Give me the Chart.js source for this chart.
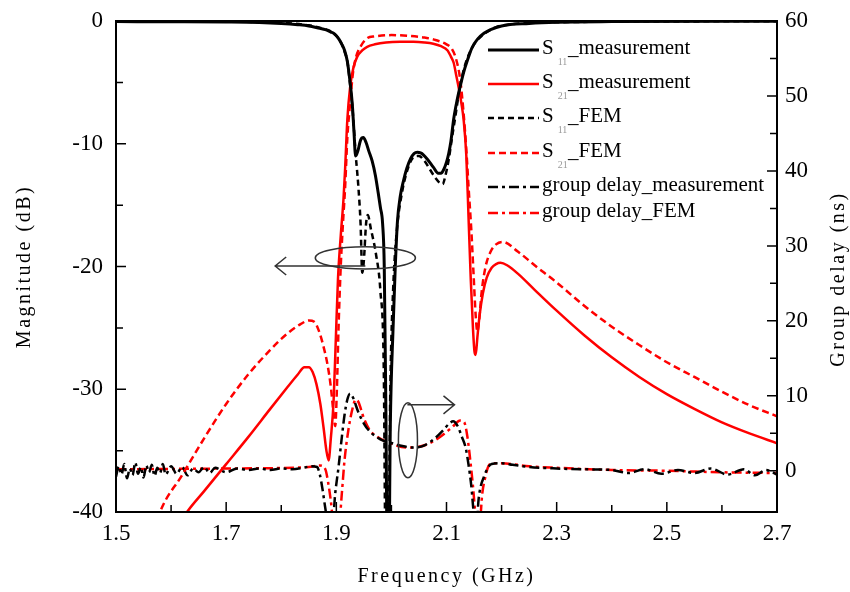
<!DOCTYPE html>
<html><head><meta charset="utf-8">
<script src="https://cdn.jsdelivr.net/npm/chart.js@4.4.1/dist/chart.umd.min.js"></script>
<style>html,body{margin:0;padding:0;background:#fff;}</style>
</head><body>
<canvas id="c" width="850" height="592"></canvas>
<script>
// ---- tick values ----
const xTicks = [1.5, 1.7, 1.9, 2.1, 2.3, 2.5, 2.7];
const xMinor = [1.6, 1.8, 2.0, 2.2, 2.4, 2.6];
const magTicks = [-40, -30, -20, -10, 0];
const magMinor = [-35, -25, -15, -5];
const gdTicks = [0, 10, 20, 30, 40, 50, 60];
const gdMinor = [5, 15, 25, 35, 45, 55];

// ---- S11 measurement ----
const s11MeasF  = [1.50,1.60,1.70,1.76,1.80,1.83,1.85,1.87,1.88,1.89,1.895,1.90,1.905,1.91,1.915,1.92,1.925,1.929,1.932,1.935,1.939,1.944,1.949,1.954,1.959,1.965,1.971,1.976,1.980,1.984,1.987,1.990,1.993,1.995,1.998,2.003,2.007,2.011,2.016,2.022,2.028,2.035,2.041,2.047,2.053,2.058,2.066,2.076,2.085,2.090,2.095,2.100,2.104,2.108,2.113,2.119,2.125,2.131,2.138,2.146,2.156,2.168,2.18,2.20,2.25,2.30,2.40,2.70];
const s11MeasDb = [-0.05,-0.06,-0.08,-0.12,-0.2,-0.3,-0.4,-0.6,-0.7,-0.9,-1.0,-1.2,-1.5,-1.9,-2.4,-3.3,-5.0,-6.8,-9.0,-11.0,-10.6,-9.7,-9.5,-9.9,-10.6,-11.4,-12.6,-14.0,-15.2,-16.5,-20,-32,-46,-46,-33,-25,-20,-16.3,-14.3,-13.0,-12.0,-11.2,-10.8,-10.7,-10.75,-10.9,-11.3,-11.9,-12.4,-12.4,-12.1,-11.5,-10.8,-9.8,-8.0,-6.5,-5.3,-4.2,-3.2,-2.2,-1.5,-1.0,-0.7,-0.4,-0.2,-0.1,-0.05,-0.02];

// ---- S21 measurement ----
const s21MeasF  = [1.615,1.629,1.66,1.70,1.74,1.78,1.81,1.83,1.842,1.85,1.857,1.864,1.871,1.877,1.882,1.886,1.890,1.895,1.899,1.903,1.908,1.913,1.916,1.920,1.925,1.931,1.938,1.947,1.956,1.97,1.99,2.016,2.04,2.06,2.076,2.09,2.102,2.108,2.113,2.118,2.122,2.127,2.131,2.136,2.140,2.144,2.148,2.151,2.153,2.156,2.160,2.166,2.173,2.182,2.19,2.198,2.21,2.23,2.26,2.30,2.35,2.40,2.45,2.50,2.55,2.60,2.65,2.70];
const s21MeasDb = [-41,-40,-38.3,-36.1,-33.9,-31.6,-29.9,-28.8,-28.2,-28.2,-28.6,-29.6,-31.2,-33.2,-35.0,-35.8,-34.0,-31.0,-26.0,-21.0,-17.5,-14.5,-12.0,-8.0,-5.4,-3.8,-2.9,-2.4,-2.1,-1.9,-1.75,-1.7,-1.7,-1.75,-1.85,-2.05,-2.4,-2.9,-3.4,-4.5,-5.4,-6.7,-8.0,-11.0,-16.0,-21.0,-25.0,-27.0,-27.2,-25.8,-24.0,-22.2,-20.9,-20.1,-19.8,-19.7,-19.9,-20.6,-21.9,-23.6,-25.6,-27.4,-29.0,-30.4,-31.6,-32.7,-33.6,-34.4];

// ---- S11 FEM ----
const s11FemF  = [1.50,1.70,1.80,1.85,1.87,1.89,1.90,1.91,1.915,1.92,1.925,1.93,1.935,1.94,1.944,1.947,1.950,1.954,1.957,1.963,1.972,1.980,1.986,1.990,1.994,1.998,2.003,2.010,2.020,2.030,2.040,2.050,2.060,2.070,2.080,2.088,2.093,2.098,2.104,2.110,2.116,2.122,2.128,2.135,2.144,2.155,2.17,2.19,2.22,2.30,2.70];
const s11FemDb = [-0.02,-0.05,-0.15,-0.35,-0.55,-0.85,-1.2,-1.9,-2.5,-3.3,-5.2,-7.5,-10.8,-13.5,-16.5,-20.5,-19.5,-16.5,-15.8,-17.0,-19.0,-22.0,-28.0,-46,-46,-30,-22,-17,-13.8,-12.0,-11.1,-11.0,-11.4,-12.1,-12.8,-13.2,-13.3,-12.6,-11.3,-9.5,-7.8,-6.0,-4.6,-3.4,-2.4,-1.6,-1.0,-0.5,-0.25,-0.1,-0.02];

// ---- S21 FEM ----
const s21FemF  = [1.57,1.58,1.62,1.66,1.70,1.74,1.78,1.81,1.835,1.85,1.86,1.868,1.876,1.884,1.890,1.895,1.898,1.901,1.904,1.908,1.912,1.916,1.920,1.925,1.930,1.936,1.945,1.956,1.97,2.00,2.03,2.06,2.08,2.10,2.11,2.118,2.125,2.131,2.136,2.140,2.145,2.149,2.153,2.156,2.159,2.164,2.171,2.18,2.19,2.202,2.23,2.26,2.30,2.35,2.40,2.45,2.50,2.55,2.60,2.65,2.70];
const s21FemDb = [-41.5,-40,-37.0,-34.0,-31.2,-28.8,-26.8,-25.5,-24.7,-24.4,-24.5,-25.2,-26.4,-28.0,-29.8,-32.0,-33.0,-30.0,-25.0,-20.0,-16.5,-13.5,-9.5,-6.7,-4.3,-2.9,-2.0,-1.4,-1.25,-1.15,-1.2,-1.35,-1.55,-1.9,-2.3,-3.2,-4.8,-7.5,-10.5,-13.5,-17.0,-20.5,-24.0,-25.3,-24.5,-22.0,-20.0,-18.8,-18.2,-18.0,-18.8,-19.9,-21.3,-23.2,-24.9,-26.4,-27.8,-29.0,-30.2,-31.3,-32.2];

// ---- group delay measurement (ns) ----
const gdMeasF  = [1.500,1.505,1.510,1.515,1.520,1.525,1.530,1.535,1.540,1.545,1.550,1.555,1.560,1.565,1.570,1.575,1.580,1.585,1.590,1.600,1.610,1.620,1.630,1.640,1.650,1.660,1.670,1.680,1.700,1.720,1.740,1.760,1.780,1.800,1.820,1.840,1.855,1.865,1.870,1.875,1.880,1.885,1.893,1.898,1.904,1.910,1.915,1.920,1.925,1.930,1.940,1.950,1.960,1.980,2.000,2.020,2.040,2.060,2.080,2.095,2.105,2.112,2.120,2.128,2.135,2.140,2.145,2.150,2.155,2.158,2.162,2.168,2.175,2.182,2.200,2.220,2.250,2.300,2.350,2.400,2.430,2.460,2.490,2.520,2.550,2.580,2.610,2.640,2.660,2.680,2.700];
const gdMeasNs = [-0.8,0.6,-0.5,0.9,-1.0,0.3,-0.6,1.1,-0.4,0.5,-0.9,0.7,-0.2,0.8,-0.7,0.4,-0.3,0.9,-0.5,0.6,-0.4,0.5,-0.6,0.3,-0.2,0.5,-0.3,0.4,-0.2,0.3,0.1,0.3,0.1,0.3,0.2,0.4,0.6,0.5,-0.5,-2.5,-5.0,-7.0,-7.0,-3.0,0.5,4.5,7.5,9.5,10.3,9.8,7.8,6.3,5.3,4.2,3.7,3.3,3.1,3.4,4.4,5.5,6.3,6.6,6.0,4.5,3.0,0.8,-2.0,-6.0,-7.0,-4.0,-2.1,-0.8,0.4,0.9,1.0,0.8,0.5,0.3,0.2,0.1,-0.3,0.2,-0.4,0.1,-0.3,0.3,-0.5,0.2,-0.6,0.1,-0.5];

// ---- group delay FEM (ns) ----
const gdFemF  = [1.50,1.70,1.85,1.87,1.880,1.885,1.890,1.895,1.905,1.910,1.915,1.922,1.930,1.935,1.940,1.950,1.960,1.975,2.00,2.03,2.05,2.07,2.09,2.11,2.125,2.132,2.138,2.143,2.148,2.153,2.160,2.165,2.170,2.176,2.185,2.20,2.25,2.30,2.40,2.50,2.60,2.70];
const gdFemNs = [0.2,0.3,0.5,0.7,0.2,-1.5,-4.0,-7.0,-7.0,-3.0,1.5,5.5,8.5,9.5,9.2,7.0,5.5,4.5,3.6,3.1,3.2,3.7,4.6,5.8,6.7,6.5,4.5,1.5,-2.0,-6.0,-7.0,-3.0,-1.0,0.6,1.0,1.0,0.6,0.4,0.1,0.0,-0.2,-0.3];

// ---- legend text ----
const legendRows = [
  {ds: 0, main: 'S', sub: '11', rest: '_measurement'},
  {ds: 1, main: 'S', sub: '21', rest: '_measurement'},
  {ds: 2, main: 'S', sub: '11', rest: '_FEM'},
  {ds: 3, main: 'S', sub: '21', rest: '_FEM'},
  {ds: 4, main: 'group delay_measurement', sub: '', rest: ''},
  {ds: 5, main: 'group delay_FEM', sub: '', rest: ''}
];

const pts = (fs, vs) => fs.map((f, i) => ({x: f, y: vs[i]}));
const SERIF = '"Liberation Serif", "Times New Roman", serif';

const datasets = [
  {label: 'S11_measurement', data: pts(s11MeasF, s11MeasDb), yAxisID: 'y', borderColor: '#000', borderWidth: 3, borderDash: []},
  {label: 'S21_measurement', data: pts(s21MeasF, s21MeasDb), yAxisID: 'y', borderColor: '#ff0000', borderWidth: 2.5, borderDash: []},
  {label: 'S11_FEM', data: pts(s11FemF, s11FemDb), yAxisID: 'y', borderColor: '#000', borderWidth: 2.5, borderDash: [6, 4]},
  {label: 'S21_FEM', data: pts(s21FemF, s21FemDb), yAxisID: 'y', borderColor: '#ff0000', borderWidth: 2.5, borderDash: [7, 4]},
  {label: 'group delay_measurement', data: pts(gdMeasF, gdMeasNs), yAxisID: 'y2', borderColor: '#000', borderWidth: 2.5, borderDash: [10, 4, 3, 4]},
  {label: 'group delay_FEM', data: pts(gdFemF, gdFemNs), yAxisID: 'y2', borderColor: '#ff0000', borderWidth: 2.5, borderDash: [10, 4, 3, 4]}
].map(d => Object.assign(d, {pointRadius: 0, fill: false, cubicInterpolationMode: 'monotone'}));

// annotations in data units
const leftMark = {cx: 1.9527, cy: -19.3, rx: 0.0909, ry: 0.9, arrowFrom: 1.9527, arrowTo: 1.789, arrowY: -19.96};
const rightMark = {cx: 2.030, cy: 4.07, rx: 0.0173, ry: 5.0, arrowFrom: 2.029, arrowTo: 2.1145, arrowY: 8.8};

const framePlugin = {
  id: 'frame',
  afterDatasetsDraw(chart) {
    const {ctx, chartArea: a, scales} = chart;
    ctx.save();
    ctx.strokeStyle = '#000';
    ctx.lineWidth = 1.5;
    ctx.beginPath();
    magTicks.forEach(v => { const y = scales.y.getPixelForValue(v); ctx.moveTo(a.left, y); ctx.lineTo(a.left + 10, y); });
    magMinor.forEach(v => { const y = scales.y.getPixelForValue(v); ctx.moveTo(a.left, y); ctx.lineTo(a.left + 7, y); });
    gdTicks.forEach(v => { const y = scales.y2.getPixelForValue(v); ctx.moveTo(a.right, y); ctx.lineTo(a.right - 10, y); });
    gdMinor.forEach(v => { const y = scales.y2.getPixelForValue(v); ctx.moveTo(a.right, y); ctx.lineTo(a.right - 7, y); });
    xTicks.forEach(v => { const x = scales.x.getPixelForValue(v); ctx.moveTo(x, a.bottom); ctx.lineTo(x, a.bottom - 10); });
    xMinor.forEach(v => { const x = scales.x.getPixelForValue(v); ctx.moveTo(x, a.bottom); ctx.lineTo(x, a.bottom - 7); });
    ctx.stroke();
    ctx.lineWidth = 2;
    ctx.strokeRect(a.left, a.top, a.right - a.left, a.bottom - a.top);
    ctx.restore();
  },
  afterDraw(chart) {
    const {ctx, chartArea: a, scales} = chart;
    const sx = scales.x, sy = scales.y, sy2 = scales.y2;
    ctx.save();
    ctx.strokeStyle = '#333';
    ctx.lineWidth = 1.5;
    let cx = sx.getPixelForValue(leftMark.cx), cy = sy.getPixelForValue(leftMark.cy);
    let rx = sx.getPixelForValue(leftMark.cx + leftMark.rx) - cx;
    let ry = sy.getPixelForValue(leftMark.cy - leftMark.ry) - cy;
    ctx.beginPath(); ctx.ellipse(cx, cy, rx, ry, 0, 0, Math.PI * 2); ctx.stroke();
    let ay = sy.getPixelForValue(leftMark.arrowY);
    let x0 = sx.getPixelForValue(leftMark.arrowFrom), x1 = sx.getPixelForValue(leftMark.arrowTo);
    ctx.beginPath(); ctx.moveTo(x0, ay); ctx.lineTo(x1, ay);
    ctx.moveTo(x1 + 11, ay - 9); ctx.lineTo(x1, ay); ctx.lineTo(x1 + 11, ay + 9); ctx.stroke();
    cx = sx.getPixelForValue(rightMark.cx); cy = sy2.getPixelForValue(rightMark.cy);
    rx = sx.getPixelForValue(rightMark.cx + rightMark.rx) - cx;
    ry = sy2.getPixelForValue(rightMark.cy - rightMark.ry) - cy;
    ctx.beginPath(); ctx.ellipse(cx, cy, rx, ry, 0, 0, Math.PI * 2); ctx.stroke();
    ay = sy2.getPixelForValue(rightMark.arrowY);
    x0 = sx.getPixelForValue(rightMark.arrowFrom); x1 = sx.getPixelForValue(rightMark.arrowTo);
    ctx.beginPath(); ctx.moveTo(x0, ay); ctx.lineTo(x1, ay);
    ctx.moveTo(x1 - 11, ay - 9); ctx.lineTo(x1, ay); ctx.lineTo(x1 - 11, ay + 9); ctx.stroke();

    // legend
    const rowY = [50, 84, 118, 153, 187, 213];
    legendRows.forEach((r, i) => {
      const ds = chart.data.datasets[r.ds];
      const y = rowY[i];
      ctx.save();
      ctx.strokeStyle = ds.borderColor;
      ctx.lineWidth = ds.borderWidth;
      ctx.setLineDash(ds.borderDash);
      ctx.beginPath(); ctx.moveTo(488, y); ctx.lineTo(539, y); ctx.stroke();
      ctx.restore();
      ctx.fillStyle = '#000';
      ctx.textBaseline = 'middle';
      ctx.textAlign = 'left';
      ctx.font = '21px ' + SERIF;
      try { ctx.letterSpacing = '0px'; } catch (e) {}
      ctx.fillText(r.main, 542, y - 2);
      if (r.sub) {
        const w = ctx.measureText(r.main).width;
        ctx.font = '10px ' + SERIF;
        ctx.fillStyle = '#999';
        ctx.fillText(r.sub, 542 + w + 4, y + 12);
        ctx.font = '21px ' + SERIF;
        ctx.fillStyle = '#000';
        ctx.fillText(r.rest, 568, y - 2);
      }
    });

    // axis titles
    ctx.fillStyle = '#000';
    ctx.font = '20px ' + SERIF;
    try { ctx.letterSpacing = '2.5px'; } catch (e) {}
    ctx.textAlign = 'center';
    ctx.textBaseline = 'middle';
    ctx.fillText('Frequency (GHz)', (a.left + a.right) / 2, 577);
    ctx.save();
    ctx.translate(25, (a.top + a.bottom) / 2);
    ctx.rotate(-Math.PI / 2);
    ctx.fillText('Magnitude (dB)', 0, 0);
    ctx.restore();
    ctx.save();
    ctx.translate(839, 279);
    ctx.rotate(-Math.PI / 2);
    ctx.fillText('Group delay (ns)', 0, 0);
    ctx.restore();
    ctx.restore();
  }
};

const tickFont = {family: SERIF, size: 23};

new Chart(document.getElementById('c'), {
  type: 'line',
  data: {datasets},
  options: {
    responsive: false,
    animation: false,
    layout: {padding: {top: 21, left: 0, right: 0, bottom: 0}},
    plugins: {legend: {display: false}, tooltip: {enabled: false}},
    elements: {line: {tension: 0}},
    scales: {
      x: {
        type: 'linear', position: 'bottom', min: 1.5, max: 2.7, bounds: 'data',
        grid: {display: false, drawTicks: false}, border: {display: false},
        ticks: {font: tickFont, color: '#000', padding: 8, autoSkip: false, maxRotation: 0, callback: v => Number(v).toFixed(1)},
        afterBuildTicks: s => { s.ticks = xTicks.map(v => ({value: v})); },
        afterFit: s => { s.height = 80; s.paddingLeft = 0; s.paddingRight = 0; }
      },
      y: {
        type: 'linear', position: 'left', min: -40, max: 0, bounds: 'data',
        grid: {display: false, drawTicks: false}, border: {display: false},
        ticks: {font: tickFont, color: '#000', padding: 13, autoSkip: false},
        afterBuildTicks: s => { s.ticks = magTicks.map(v => ({value: v})); },
        afterFit: s => { s.width = 116; s.paddingTop = 0; s.paddingBottom = 0; }
      },
      y2: {
        type: 'linear', position: 'right', min: -5.5, max: 60, bounds: 'data',
        grid: {display: false, drawTicks: false}, border: {display: false},
        ticks: {font: tickFont, color: '#000', padding: 8, autoSkip: false},
        afterBuildTicks: s => { s.ticks = gdTicks.map(v => ({value: v})); },
        afterFit: s => { s.width = 73; s.paddingTop = 0; s.paddingBottom = 0; }
      }
    }
  },
  plugins: [framePlugin]
});
</script>
</body></html>
